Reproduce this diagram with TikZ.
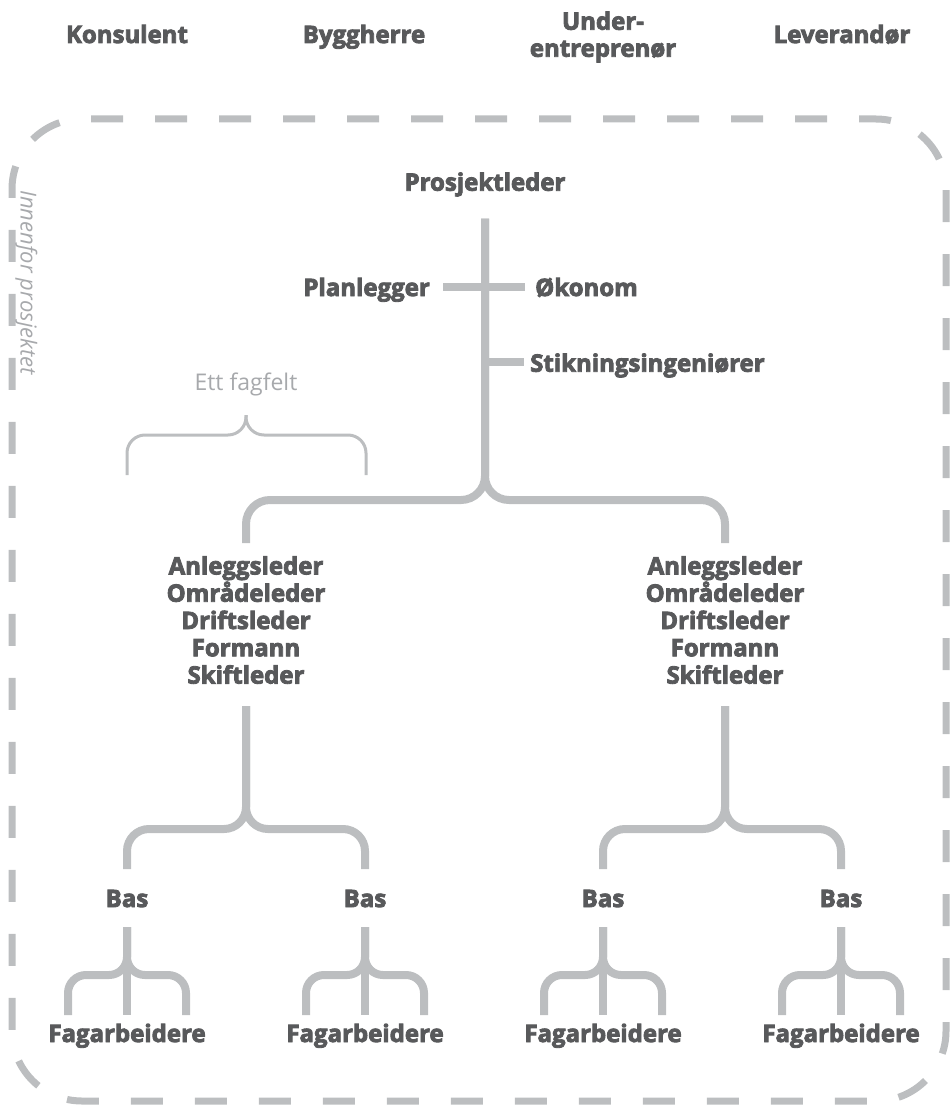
\documentclass[tikz,border=0pt]{standalone}
\usepackage{fontspec}
\setmainfont{Open Sans}[BoldFeatures={FakeBold=3.5}]
\definecolor{txt}{HTML}{58595B}
\definecolor{rule}{HTML}{BCBEC0}
\definecolor{soft}{HTML}{A7A9AC}
\newcommand\lblfont{\fontsize{24}{27.3}\selectfont\bfseries}
\newcommand\topfont{\fontsize{24}{27}\selectfont\bfseries}
\begin{document}
\begin{tikzpicture}[x=1pt,y=-1pt,
  lbl/.style={font=\lblfont, text=txt, inner sep=0pt, anchor=base},
  multi/.style={font=\lblfont, text=txt, inner sep=0pt, align=center},
  head/.style={font=\topfont, text=txt, inner sep=0pt, anchor=base},
  conn/.style={draw=rule, line width=8pt},
  thinbrace/.style={draw=rule, line width=3pt, rounded corners=18pt},
  border/.style={draw=rule, line width=7pt, dash pattern=on 32pt off 32pt, dash phase=16pt},
  note/.style={text=soft, inner sep=0pt}]
\useasboundingbox (0,0) rectangle (952,1105);

% parties outside the project
\node[head] (kon) at (127,43) {Konsulent};
\node[head] (byg) at (364,43) {Byggherre};
\node[head, anchor=center, align=center] (und) at (603,37) {Under-\\entreprenør};
\node[head] (lev) at (842,43) {Leverandør};

% project boundary (perimeter is a whole number of dash periods)
\draw[border, rounded corners=70pt] (485,119) -- (946,119) -- (946,1101) -- (12,1101) -- (12,119) -- cycle;
\node[note, font=\fontsize{22}{26}\selectfont\itshape, rotate=-90, anchor=base west] (inn) at (20.5,190) {Innenfor prosjektet};

% top management
\node[lbl] (pl) at (485,190.7) {Prosjektleder};
\node[lbl, anchor=base east] (plan) at (430,296) {Planlegger};
\node[lbl, anchor=base west] (oko) at (535,296) {Økonom};
\node[lbl, anchor=base west] (sti) at (530,371.7) {Stikningsingeniører};

% site management
\node[multi] (a1) at (246,620) {Anleggsleder\\Områdeleder\\Driftsleder\\Formann\\Skiftleder};
\node[multi] (a2) at (725,620) {Anleggsleder\\Områdeleder\\Driftsleder\\Formann\\Skiftleder};

% foremen and workers
\foreach \i/\x in {1/127,2/365,3/603,4/841}{
  \node[lbl] (b\i) at (\x,907) {Bas};
  \node[lbl] (f\i) at (\x,1042) {Fagarbeidere};
}

% one discipline
\node[note, font=\fontsize{23}{27}\selectfont, anchor=base] (ett) at (246,390) {Ett fagfelt};
\coordinate (ettjoin) at (246,435);
\coordinate (ettL) at (127,475);
\coordinate (ettR) at (366,475);
\draw[thinbrace] (ettL) |- (ettjoin) -- ([yshift=-25pt]ett.base);
\draw[thinbrace] (ettR) |- (ettjoin) -- ([yshift=-25pt]ett.base);

% staff lines off the main trunk
\draw[conn] ([xshift=13pt,yshift=9pt]plan.base east) -- ([xshift=-10pt,yshift=9pt]oko.base west);
\coordinate (sbar) at ([yshift=10pt]sti.base west);
\draw[conn] (pl.base |- sbar) -- ([xshift=-6pt]sbar);

% main split
\coordinate (jA) at (485,500);
\draw[conn, rounded corners=24pt] ([yshift=-28pt]pl.base) -- (jA) -| ([yshift=77pt]a1.center);
\draw[conn, rounded corners=24pt] ([yshift=-28pt]pl.base) -- (jA) -| ([yshift=77pt]a2.center);

% site manager to foremen
\coordinate (jB1) at (246,829);
\coordinate (jB2) at (725,829);
\draw[conn, rounded corners=22pt] ([yshift=-86pt]a1.center) -- (jB1) -| ([yshift=38pt]b1.base);
\draw[conn, rounded corners=22pt] ([yshift=-86pt]a1.center) -- (jB1) -| ([yshift=38pt]b2.base);
\draw[conn, rounded corners=22pt] ([yshift=-86pt]a2.center) -- (jB2) -| ([yshift=38pt]b3.base);
\draw[conn, rounded corners=22pt] ([yshift=-86pt]a2.center) -- (jB2) -| ([yshift=38pt]b4.base);

% foremen to workers
\foreach \i in {1,2,3,4}{
  \coordinate (jC\i) at ([yshift=-68pt]b\i.base);
  \draw[conn, rounded corners=18pt] ([yshift=-20pt]b\i.base) -- (jC\i) -| ([xshift=-59pt,yshift=27pt]f\i.base);
  \draw[conn, rounded corners=18pt] ([yshift=-20pt]b\i.base) -- (jC\i) -| ([xshift=59pt,yshift=27pt]f\i.base);
  \draw[conn] ([yshift=-20pt]b\i.base) -- ([yshift=27pt]f\i.base);
}
\end{tikzpicture}
\end{document}
